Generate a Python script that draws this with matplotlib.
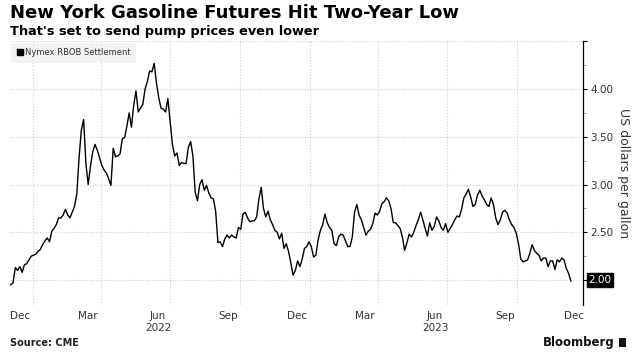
import pandas as pd
import matplotlib
matplotlib.use("Agg")
import matplotlib.pyplot as plt
from matplotlib.lines import Line2D
from matplotlib.patches import Rectangle

# -----------------------------
# Data (one value every 3 days)
# -----------------------------
start_date = "2021-12-03"
step = "3D"

prices = [
    1.95, 1.97, 2.13, 2.10, 2.14, 2.08, 2.16, 2.17, 2.21, 2.25,
    2.26, 2.27, 2.30, 2.32, 2.37, 2.41, 2.44, 2.40, 2.51, 2.54,
    2.58, 2.65, 2.65, 2.68, 2.74, 2.68, 2.65, 2.71, 2.77, 2.90,
    3.28, 3.57, 3.68, 3.22, 3.00, 3.19, 3.34, 3.42, 3.36, 3.28,
    3.20, 3.15, 3.12, 3.06, 2.99, 3.38, 3.29, 3.30, 3.32, 3.48,
    3.49, 3.61, 3.75, 3.60, 3.83, 3.98, 3.76, 3.80, 3.84, 4.00,
    4.08, 4.19, 4.18, 4.27, 4.06, 3.91, 3.80, 3.79, 3.76, 3.90,
    3.66, 3.42, 3.30, 3.33, 3.20, 3.23, 3.22, 3.22, 3.39, 3.45,
    3.30, 2.92, 2.83, 3.00, 3.05, 2.94, 2.99, 2.91, 2.86, 2.85,
    2.72, 2.39, 2.40, 2.35, 2.43, 2.47, 2.44, 2.47, 2.45, 2.44,
    2.55, 2.53, 2.69, 2.71, 2.65, 2.61, 2.62, 2.62, 2.66, 2.85,
    2.97, 2.75, 2.66, 2.72, 2.63, 2.58, 2.52, 2.50, 2.43, 2.49,
    2.33, 2.38, 2.30, 2.18, 2.05, 2.10, 2.20, 2.14, 2.22, 2.33,
    2.35, 2.40, 2.35, 2.24, 2.26, 2.42, 2.52, 2.58, 2.69, 2.60,
    2.55, 2.52, 2.38, 2.36, 2.45, 2.48, 2.47, 2.41, 2.35, 2.35,
    2.45, 2.71, 2.79, 2.68, 2.63, 2.55, 2.47, 2.51, 2.53, 2.59,
    2.70, 2.68, 2.72, 2.80, 2.82, 2.86, 2.83, 2.75, 2.60, 2.60,
    2.57, 2.54, 2.45, 2.31, 2.39, 2.48, 2.45, 2.50, 2.57, 2.63,
    2.71, 2.63, 2.54, 2.46, 2.60, 2.52, 2.56, 2.66, 2.62, 2.55,
    2.52, 2.59, 2.50, 2.54, 2.58, 2.63, 2.67, 2.66, 2.74, 2.86,
    2.90, 2.95, 2.87, 2.77, 2.79, 2.89, 2.94, 2.88, 2.84, 2.79,
    2.77, 2.86, 2.79, 2.65, 2.58, 2.63, 2.71, 2.73, 2.70, 2.63,
    2.58, 2.55, 2.49, 2.38, 2.22, 2.19, 2.20, 2.21, 2.28, 2.37,
    2.31, 2.28, 2.26, 2.20, 2.23, 2.23, 2.14, 2.20, 2.20, 2.11,
    2.21, 2.19, 2.23, 2.21, 2.12, 2.07, 1.99,
]

month_ticks = ["2021-12-15", "2022-03-15", "2022-06-15", "2022-09-15", "2022-12-15",
               "2023-03-15", "2023-06-15", "2023-09-15", "2023-12-15"]
month_labels = ["Dec", "Mar", "Jun\n2022", "Sep", "Dec", "Mar", "Jun\n2023", "Sep", "Dec"]
quarter_lines = ["2022-01-01", "2022-04-01", "2022-07-01", "2022-10-01",
                 "2023-01-01", "2023-04-01", "2023-07-01", "2023-10-01"]

y_ticks = [2.0, 2.5, 3.0, 3.5, 4.0, 4.5]
y_labels = ["", "2.50", "3.00", "3.50", "4.00", ""]
y_minor = [2.25, 2.75, 3.25, 3.75, 4.25]
last_label = "2.00"

x_range = ("2021-12-02", "2023-12-27")
y_range = (1.74, 4.5)

dates = pd.date_range(start_date, periods=len(prices), freq=step)
series = pd.Series(prices, index=dates)

# -----------------------------
# Figure
# -----------------------------
W, H = 637, 354
fig = plt.figure(figsize=(W / 100, H / 100), dpi=100)
ax = fig.add_axes([10 / W, 1 - 304.8 / H, 573 / W, 263.5 / H])

ax.plot(series.index, series.values, color="black", linewidth=1.0, zorder=3)

ax.set_xlim(pd.Timestamp(x_range[0]), pd.Timestamp(x_range[1]))
ax.set_ylim(*y_range)

# x axis: month labels mid-month, dotted lines at quarter starts
ax.set_xticks(pd.to_datetime(month_ticks))
ax.set_xticklabels(month_labels, fontsize=7.5, color="#333333")
ax.set_xticks(pd.to_datetime(quarter_lines), minor=True)
ax.tick_params(axis="x", which="both", length=0, pad=4.5)
ax.grid(True, axis="x", which="minor", color="#cccccc", linestyle=":", linewidth=0.8)

# y axis on the right
ax.yaxis.tick_right()
ax.yaxis.set_label_position("right")
ax.set_yticks(y_ticks)
ax.set_yticklabels(y_labels, fontsize=7.5, color="#333333")
ax.set_yticks(y_minor, minor=True)
ax.tick_params(axis="y", which="major", length=3, width=0.8, pad=2, color="black")
ax.tick_params(axis="y", which="minor", length=2, width=0.6, color="#999999")
ax.grid(True, axis="y", which="major", color="#cccccc", linestyle=":", linewidth=0.8)
ax.set_ylabel("US dollars per gallon", fontsize=9, color="#333333", rotation=270, labelpad=12)

for side in ["left", "top", "bottom"]:
    ax.spines[side].set_visible(False)
ax.spines["right"].set_linewidth(0.9)

# last value tag
ax.annotate(last_label, xy=(1.0, 2.00),
            xycoords=("axes fraction", "data"), xytext=(4, 0), textcoords="offset points",
            ha="left", va="center", fontsize=7.5, color="white", zorder=10,
            annotation_clip=False,
            bbox=dict(boxstyle="square,pad=0.15", facecolor="black", edgecolor="black"))

# legend
handle = Line2D([], [], marker="s", color="black", linestyle="none", markersize=4.5)
leg = ax.legend([handle], ["Nymex RBOB Settlement"], loc="upper left", bbox_to_anchor=(0, 1),
                fontsize=6, frameon=True, fancybox=False, borderaxespad=0.15,
                handletextpad=0.1, handlelength=0.8, borderpad=0.7)
leg.get_frame().set_facecolor("#f0f0f0")
leg.get_frame().set_edgecolor("none")
for t in leg.get_texts():
    t.set_color("#333333")

# -----------------------------
# Titles and footer
# -----------------------------
fig.text(10 / W, 1 - 18 / H, "New York Gasoline Futures Hit Two-Year Low",
         fontsize=13, fontweight="bold", va="baseline", ha="left")
fig.text(10 / W, 1 - 35 / H, "That's set to send pump prices even lower",
         fontsize=9.3, fontweight="bold", va="baseline", ha="left")
fig.text(10 / W, 1 - 346 / H, "Source: CME", fontsize=7, fontweight="bold",
         va="baseline", ha="left", color="#222222")
fig.text(615 / W, 1 - 346 / H, "Bloomberg", fontsize=8.5, fontweight="bold",
         va="baseline", ha="right", color="#111111")
fig.patches.append(Rectangle((619 / W, 1 - 347 / H), 7 / W, 9 / H,
                             transform=fig.transFigure, facecolor="#111111"))

fig.savefig("out.png", dpi=100)
plt.close(fig)
